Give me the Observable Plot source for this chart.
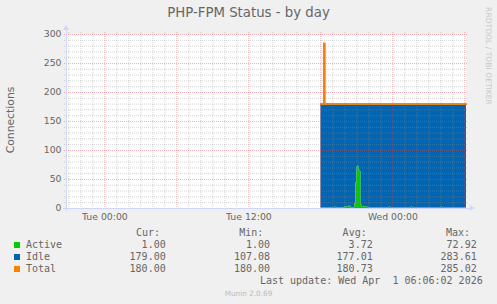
<!DOCTYPE html>
<html><head><meta charset="utf-8">
<script src="https://cdn.jsdelivr.net/npm/d3@7"></script>
<script src="https://cdn.jsdelivr.net/npm/@observablehq/plot@0.6"></script>
<style>
html,body{margin:0;padding:0;background:#F0F0F0;}
#chart{position:relative;width:497px;height:304px;background:#F0F0F0;overflow:hidden;font-family:"DejaVu Sans",sans-serif;color:#666666;}
#chart svg{position:absolute;left:0;top:0;overflow:visible;}
.abs{position:absolute;white-space:pre;}
.mono{font-family:"DejaVu Sans Mono",monospace;font-size:10px;line-height:12px;height:12px;}
</style></head><body><div id="chart"></div>
<script>
// ---- data (UTC times) ----
const sampleTimes = [
  "2026-03-31T18:00","2026-03-31T18:15","2026-03-31T18:20","2026-03-31T19:10","2026-03-31T19:20",
  "2026-03-31T20:00","2026-03-31T20:10","2026-03-31T20:20","2026-03-31T20:30","2026-03-31T20:50",
  "2026-03-31T20:55","2026-03-31T21:00","2026-03-31T21:05","2026-03-31T21:10","2026-03-31T21:15",
  "2026-03-31T21:20","2026-03-31T21:25","2026-03-31T21:45","2026-03-31T22:00","2026-03-31T23:40",
  "2026-03-31T23:50","2026-04-01T01:30","2026-04-01T01:40","2026-04-01T04:00","2026-04-01T04:10",
  "2026-04-01T06:08"
];
const activeValues = [1.0,1.4,1.0,2.0,1.0, 3.0,2.0,4.0,1.5,8.0, 45.0,71.0,72.92,66.0,64.0, 6.0,3.0,2.0,1.0,2.0, 1.0,2.0,1.0,2.0,1.0, 1.0];
const idleValues   = [179.0,283.61,179.0,178.0,179.0, 177.0,178.0,176.0,178.5,172.0, 135.0,109.0,107.08,114.0,116.0, 174.0,177.0,178.0,179.0,178.0, 179.0,178.0,179.0,178.0,179.0, 179.0];
const totalValues  = [180.0,285.02,180.0,180.0,180.0, 180.0,180.0,180.0,180.0,180.0, 180.0,180.0,180.0,180.0,180.0, 180.0,180.0,180.0,180.0,180.0, 180.0,180.0,180.0,180.0,180.0, 180.0];

const xStart = "2026-03-30T20:48";
const xEnd   = "2026-04-01T06:08";
const xTickTimes  = ["2026-03-31T00:00","2026-03-31T12:00","2026-04-01T00:00"];
const xTickLabels = ["Tue 00:00","Tue 12:00","Wed 00:00"];
const yTicks = [0,50,100,150,200,250,300];

const seriesNames = ["Active","Idle","Total"];
const seriesColors = ["#00CC00","#0066B3","#FF8000"];
const curValues = ["1.00","179.00","180.00"];
const minValues = ["1.00","107.08","180.00"];
const avgValues = ["3.72","177.01","180.73"];
const maxValues = ["72.92","283.61","285.02"];

const titleText = "PHP-FPM Status - by day";
const yLabel = "Connections";
const lastUpdate = "Last update: Wed Apr  1 06:06:02 2026";
const footer = "Munin 2.0.69";
const watermark = "RRDTOOL / TOBI OETIKER";

// ---- build ----
const parse = s => new Date(s + ":00Z");
const data = sampleTimes.map((t, i) => ({time: parse(t), active: activeValues[i], idle: idleValues[i], total: totalValues[i]}));
const xDomain = [parse(xStart), parse(xEnd)];
const tickDates = xTickTimes.map(parse);
const labelFor = d => xTickLabels[tickDates.findIndex(t => +t === +d)] ?? "";
const hours = d3.utcHour.range(xDomain[0], xDomain[1]);
const xMajor = hours.filter(h => h.getUTCHours() % 6 === 0);
const xMinor = hours.filter(h => h.getUTCHours() % 6 !== 0);
const yMajor = d3.range(50, 301, 50);
const yMinor = d3.range(10, 300, 10).filter(v => v % 50 !== 0);

const gridColor = "rgba(143,143,143,0.38)";
const mgridColor = "rgba(230,70,70,0.42)";
const axisColor = "#CFD6F8";

const plot = Plot.plot({
  width: 497, height: 225,
  marginLeft: 66, marginRight: 31, marginTop: 34, marginBottom: 17,
  style: {background: "transparent", fontFamily: "DejaVu Sans, sans-serif", fontSize: "9.3px", color: "#666666", overflow: "visible"},
  x: {type: "utc", domain: xDomain},
  y: {domain: [0, 300]},
  marks: [
    Plot.frame({fill: "#FFFFFF", stroke: "none"}),
    Plot.areaY(data, {x: "time", y1: d => d.active, y2: d => d.active + d.idle, fill: seriesColors[1], curve: "step-after"}),
    Plot.areaY(data, {x: "time", y1: d => 0, y2: d => d.active, fill: seriesColors[0], curve: "step-after"}),
    Plot.lineY(data, {x: "time", y: "total", stroke: seriesColors[2], strokeWidth: 1.6, curve: "step-after"}),
    Plot.ruleY(yMinor, {stroke: gridColor, strokeDasharray: "1,1", insetLeft: -2, insetRight: -2}),
    Plot.ruleX(xMinor, {stroke: gridColor, strokeDasharray: "1,1", insetTop: -2, insetBottom: -2}),
    Plot.ruleY(yMajor, {stroke: mgridColor, strokeDasharray: "1,1", insetLeft: -2, insetRight: -2}),
    Plot.ruleX(xMajor, {stroke: mgridColor, strokeDasharray: "1,1", insetTop: -2, insetBottom: -2}),
    Plot.ruleY([0], {stroke: axisColor, insetLeft: -3, insetRight: -4}),
    Plot.ruleX([xDomain[0]], {stroke: axisColor, insetTop: -5, insetBottom: -3}),
    Plot.axisY({ticks: yTicks, tickSize: 0, tickPadding: 5, label: null, fill: "#666666"}),
    Plot.axisX({ticks: tickDates, tickSize: 0, tickPadding: 5, label: null, fill: "#666666", tickFormat: labelFor})
  ]
});

const chart = document.getElementById("chart");
chart.appendChild(plot);

// axis arrows derived from scales
const sx = plot.scale("x"), sy = plot.scale("y");
const svg = d3.select(plot);
const x0 = sx.apply(xDomain[0]), x1 = sx.apply(xDomain[1]);
const y0 = sy.apply(0), yTop = sy.apply(300);
svg.append("path").attr("fill", axisColor)
  .attr("d", `M${x1+4},${y0-3}L${x1+9},${y0}L${x1+4},${y0+3}Z`);
svg.append("path").attr("fill", axisColor)
  .attr("d", `M${x0-3},${yTop-4}L${x0},${yTop-9}L${x0+3},${yTop-4}Z`);

function addDiv(text, css, cls) {
  const d = document.createElement("div");
  d.className = "abs" + (cls ? " " + cls : "");
  d.textContent = text;
  Object.assign(d.style, css);
  chart.appendChild(d);
  return d;
}
// title
addDiv(titleText, {left: "0px", width: "497px", textAlign: "center", top: "5px", fontSize: "13.3px", lineHeight: "16px"});
// y label
addDiv(yLabel, {left: "10.5px", top: "120px", fontSize: "10.8px", lineHeight: "12px", transform: "translate(-50%,-50%) rotate(-90deg)"});
// watermark
addDiv(watermark, {left: "488px", top: "56px", fontSize: "7.6px", lineHeight: "10px", color: "#C8C8C8", transform: "translate(-50%,-50%) rotate(90deg)"});

// legend
const hdr = [["Cur:", 160], ["Min:", 263.3], ["Avg:", 366.7], ["Max:", 470]];
hdr.forEach(([t, r]) => addDiv(t, {right: (497 - r) + "px", top: (233.3 - 6) + "px"}, "mono"));
const colRights = [165.7, 270, 372.7, 476.7];
const rowCenters = [244.5, 256.6, 268.6];
seriesNames.forEach((name, i) => {
  const c = rowCenters[i];
  const sq = document.createElement("div");
  Object.assign(sq.style, {position: "absolute", left: "14px", top: (c - 3) + "px", width: "6px", height: "6px", background: seriesColors[i]});
  chart.appendChild(sq);
  addDiv(name, {left: "26px", top: (c - 6) + "px"}, "mono");
  [curValues[i], minValues[i], avgValues[i], maxValues[i]].forEach((v, j) =>
    addDiv(v, {right: (497 - colRights[j]) + "px", top: (c - 6) + "px"}, "mono"));
});
addDiv(lastUpdate, {right: (497 - 482.7) + "px", top: (280.7 - 6) + "px"}, "mono");
addDiv(footer, {left: "0px", width: "497px", textAlign: "center", top: "288.5px", fontSize: "7.3px", lineHeight: "9px", color: "#BBBBBB"});
</script></body></html>
